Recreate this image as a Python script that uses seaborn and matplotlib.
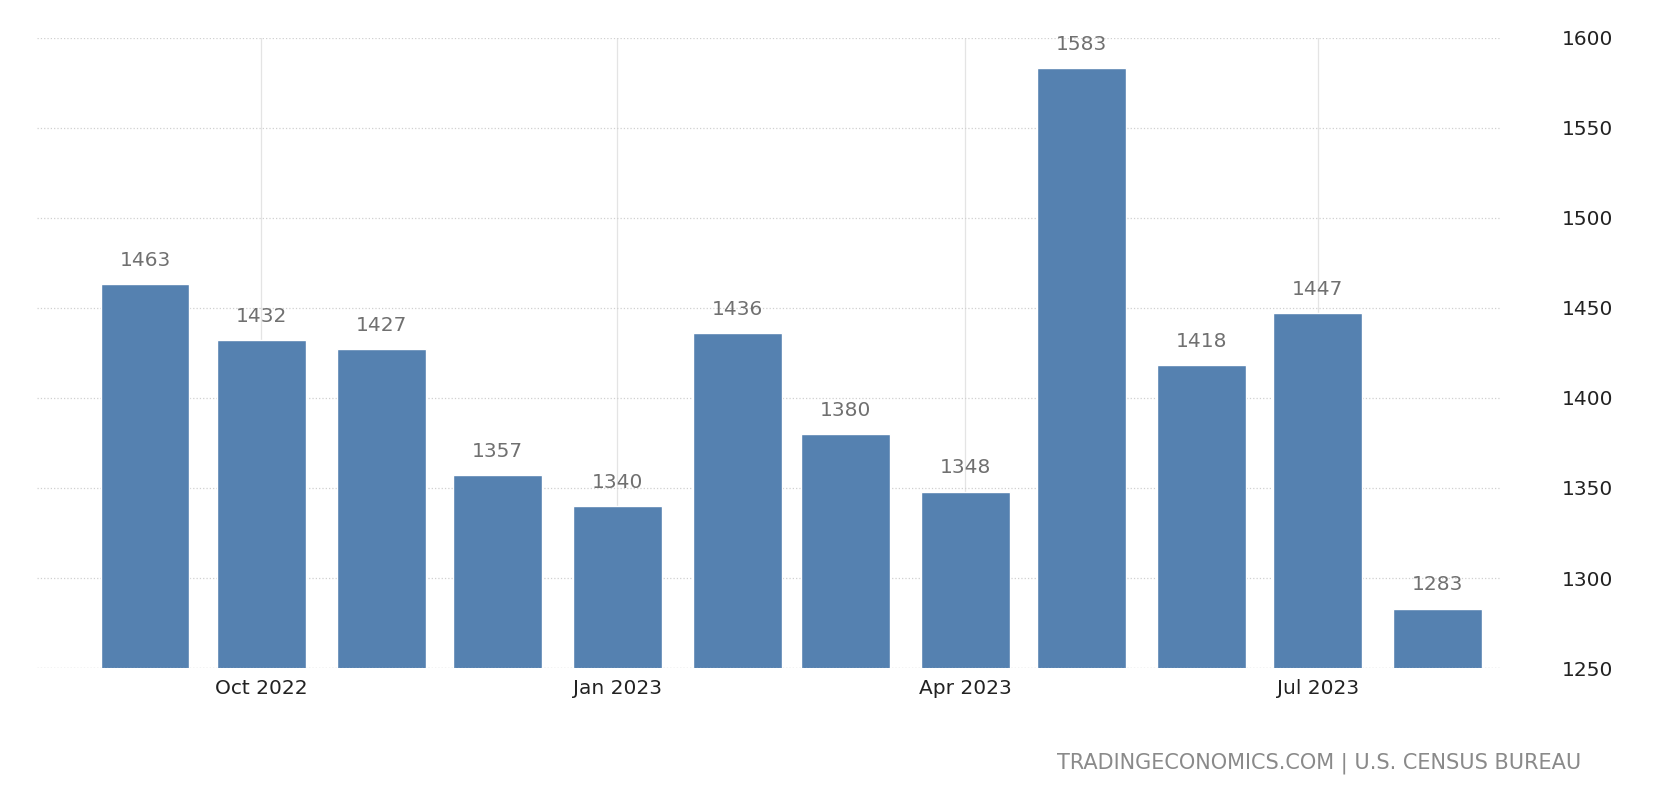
import pandas as pd
import matplotlib.pyplot as plt
import seaborn as sns

months = pd.date_range('2022-09-01', '2023-08-01', freq='MS')
values = [1463, 1432, 1427, 1357, 1340, 1436, 1380, 1348, 1583, 1418, 1447, 1283]
tick_months = ['2022-10-01', '2023-01-01', '2023-04-01', '2023-07-01']
tick_labels = ['Oct 2022', 'Jan 2023', 'Apr 2023', 'Jul 2023']

start = months[0]
df = pd.DataFrame({'day': (months - start).days, 'value': values})

sns.set_style('white')
fig = plt.figure(figsize=(16.68, 8.02), dpi=100)
ax = fig.add_axes([0.022, 0.167, 0.877, 0.786])

ax.grid(axis='y', color='#d0d0d0', linestyle=':', linewidth=0.9)
ax.grid(axis='x', color='#e4e4e4', linestyle='-', linewidth=0.9)
ax.set_axisbelow(True)

sns.barplot(data=df, x='day', y='value', native_scale=True, color='#5581b0',
            saturation=1, width=0.82, ax=ax)

for d, v in zip(df['day'], df['value']):
    ax.text(d, v + 8, str(v), ha='center', va='bottom', fontsize=14.5, color='#707070')

ticks = [(pd.Timestamp(t) - start).days for t in tick_months]
ax.set_xticks(ticks)
ax.set_xticklabels(tick_labels, fontsize=14.5, color='#222222')
ax.set_xlim(-28, df['day'].iloc[-1] + 16)
ax.set_ylim(1250, 1600)
ax.set_yticks(range(1250, 1601, 50))
ax.yaxis.tick_right()
ax.tick_params(axis='y', labelsize=14.5, colors='#222222', length=0, pad=45)
ax.tick_params(axis='x', length=0, pad=8)
ax.set_xlabel('')
ax.set_ylabel('')
for s in ax.spines.values():
    s.set_visible(False)
ax.axhline(1250, color='#d0d0d0', linewidth=0.9, linestyle=':')

fig.text(0.948, 0.035, 'TRADINGECONOMICS.COM | U.S. CENSUS BUREAU', ha='right',
         va='bottom', fontsize=15, color='#8a8a8a')

fig.savefig('out.png', dpi=100)
